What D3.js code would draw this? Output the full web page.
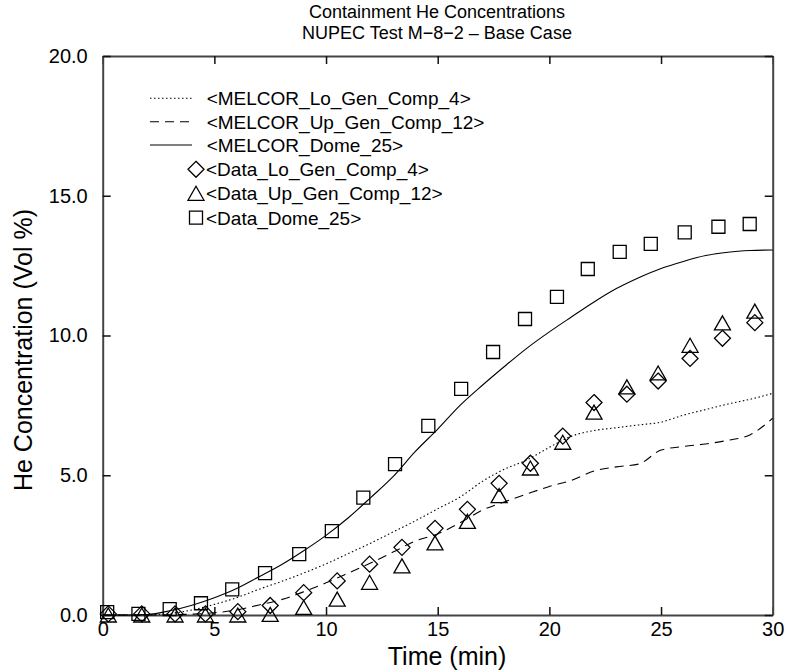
<!DOCTYPE html>
<html><head><meta charset="utf-8">
<script src="https://cdn.jsdelivr.net/npm/d3@7"></script>
<style>
body{margin:0;background:#fff}
text{font-family:"Liberation Sans",Arial,Helvetica,sans-serif;fill:#000}
</style></head>
<body><svg id="chart" width="786" height="672"></svg>
<script>
// ---- data ----
const titleLines = ["Containment He Concentrations", "NUPEC Test M\u22128\u22122 \u2013 Base Case"];
const xLabel = "Time (min)";
const yLabel = "He Concentration (Vol %)";
const xTicks = [0, 5, 10, 15, 20, 25, 30];
const yTicks = [0, 5, 10, 15, 20];

const melcorTime = [0,1,2,3,4,5,6,7,8,9,10,11,12,13,14,15,16,17,18,19,20,21,22,23,24,25,26,27,28,29,30];
const melcorLo4  = [0,0,0.01,0.05,0.18,0.38,0.62,0.92,1.2,1.5,1.83,2.2,2.57,2.97,3.37,3.8,4.22,4.78,5.22,5.55,6.0,6.4,6.6,6.7,6.8,6.9,7.15,7.35,7.55,7.72,7.93];
const melcorUp12 = [0,0,0,0.01,0.03,0.08,0.18,0.36,0.55,0.83,1.15,1.5,1.86,2.25,2.65,2.9,3.3,3.75,4.05,4.33,4.6,4.82,5.15,5.3,5.4,5.9,6.03,6.12,6.25,6.45,7.04];
const melcorDome25 = [0,0,0.02,0.15,0.35,0.62,0.95,1.37,1.8,2.3,2.85,3.48,4.2,4.95,5.85,6.65,7.5,8.22,8.9,9.55,10.13,10.67,11.2,11.68,12.07,12.4,12.65,12.86,12.98,13.04,13.06];

const dataCompTime = [0.25,1.75,3.24,4.6,6.05,7.5,9.0,10.5,11.95,13.4,14.88,16.33,17.75,19.15,20.6,22.0,23.47,24.87,26.3,27.75,29.2];
const dataLo4  = [0.04,0.04,0.04,0.04,0.12,0.34,0.8,1.22,1.82,2.42,3.1,3.78,4.71,5.43,6.4,7.6,7.9,8.37,9.18,9.9,10.46];
const dataUp12 = [0,0,0,0,0,0.02,0.27,0.57,1.17,1.76,2.58,3.35,4.27,5.26,6.18,7.26,8.16,8.66,9.65,10.45,10.87];
const dataDomeTime = [0.2,1.6,3.0,4.4,5.8,7.27,8.8,10.26,11.67,13.09,14.58,16.05,17.48,18.91,20.34,21.72,23.15,24.54,26.06,27.57,28.97];
const dataDome25 = [0.1,0.04,0.21,0.42,0.92,1.5,2.18,3.0,4.2,5.4,6.77,8.09,9.41,10.59,11.38,12.38,12.99,13.28,13.69,13.89,13.99];

const legendNames = ["<MELCOR_Lo_Gen_Comp_4>","<MELCOR_Up_Gen_Comp_12>","<MELCOR_Dome_25>","<Data_Lo_Gen_Comp_4>","<Data_Up_Gen_Comp_12>","<Data_Dome_25>"];

// ---- chart ----
const svg = d3.select("#chart");
const x = d3.scaleLinear().domain([0, 30]).range([102.7, 772.7]);
const y = d3.scaleLinear().domain([0, 20]).range([615, 56]);

// title
svg.selectAll("text.title").data(titleLines).enter().append("text")
  .attr("class","title").attr("x", 437).attr("y", (d,i)=>17.5 + i*21)
  .attr("text-anchor","middle").style("font-size","18px").text(d=>d);

// axes
function styleAxis(g){
  g.select(".domain").attr("stroke","#444").attr("stroke-width",2);
  g.selectAll(".tick line").attr("stroke","#111").attr("stroke-width",1.5);
  g.selectAll(".tick text").style("font-size","20px").style("font-family",'"Liberation Sans",Arial,sans-serif').attr("fill","#000");
}
svg.append("g").attr("transform","translate(0,615)")
  .call(d3.axisBottom(x).tickValues(xTicks).tickFormat(d3.format("d")).tickSize(-8).tickSizeOuter(0).tickPadding(7))
  .call(styleAxis);
svg.append("g").attr("transform","translate(0,56)")
  .call(d3.axisTop(x).tickValues(xTicks).tickFormat("").tickSize(-8).tickSizeOuter(0))
  .call(styleAxis);
svg.append("g").attr("transform","translate(102.7,0)")
  .call(d3.axisLeft(y).tickValues(yTicks).tickFormat(d3.format(".1f")).tickSize(-8).tickSizeOuter(0).tickPadding(15))
  .call(styleAxis);
svg.append("g").attr("transform","translate(772.7,0)")
  .call(d3.axisRight(y).tickValues(yTicks).tickFormat("").tickSize(-8).tickSizeOuter(0))
  .call(styleAxis);

// axis titles
svg.append("text").attr("x", 447).attr("y", 665).attr("text-anchor","middle")
  .style("font-size","25px").text(xLabel);
svg.append("text").attr("transform","translate(32,350) rotate(-90)").attr("text-anchor","middle")
  .style("font-size","25px").text(yLabel);

// lines
const lineGen = d3.line().curve(d3.curveMonotoneX);
const lineSeries = [
  {vals: melcorLo4, dash: "1.5,2.5"},
  {vals: melcorUp12, dash: "9,6"},
  {vals: melcorDome25, dash: null}
];
lineSeries.forEach(s => {
  const pts = melcorTime.map((t,i)=>[x(t), y(s.vals[i])]);
  svg.append("path").attr("d", lineGen(pts)).attr("fill","none")
    .attr("stroke","#000").attr("stroke-width",1.1)
    .attr("stroke-dasharray", s.dash);
});

// markers
function diamond(g, cx, cy){ const r=8; g.append("path").attr("d",`M${cx},${cy-r}L${cx+r},${cy}L${cx},${cy+r}L${cx-r},${cy}Z`); }
function triangle(g, cx, cy){ const w=8, h=7; g.append("path").attr("d",`M${cx},${cy-h}L${cx+w},${cy+h}L${cx-w},${cy+h}Z`); }
function square(g, cx, cy){ const r=6.5; g.append("path").attr("d",`M${cx-r},${cy-r}H${cx+r}V${cy+r}H${cx-r}Z`); }

const mk = svg.append("g").attr("fill","none").attr("stroke","#000").attr("stroke-width",1.3);
dataCompTime.forEach((t,i)=> diamond(mk, x(t), y(dataLo4[i])));
dataCompTime.forEach((t,i)=> triangle(mk, x(t), y(dataUp12[i])));
dataDomeTime.forEach((t,i)=> square(mk, x(t), y(dataDome25[i])));

// legend
const legRows = [98.3,121.7,145,169.3,193.3,217.7];
const lg = svg.append("g");
legendNames.forEach((name,i)=>{
  const cy = legRows[i];
  if (i < 3) {
    lg.append("line").attr("x1",150).attr("x2",192).attr("y1",cy).attr("y2",cy)
      .attr("stroke","#000").attr("stroke-width",1.1)
      .attr("stroke-dasharray", lineSeries[i].dash);
  } else {
    const g = lg.append("g").attr("fill","none").attr("stroke","#000").attr("stroke-width",1.3);
    if (i===3) diamond(g,196,cy);
    if (i===4) triangle(g,196,cy);
    if (i===5) square(g,196,cy);
  }
  lg.append("text").attr("x", i<3 ? 206.7 : 206).attr("y", cy+7).style("font-size","19px").text(name);
});
</script></body></html>
